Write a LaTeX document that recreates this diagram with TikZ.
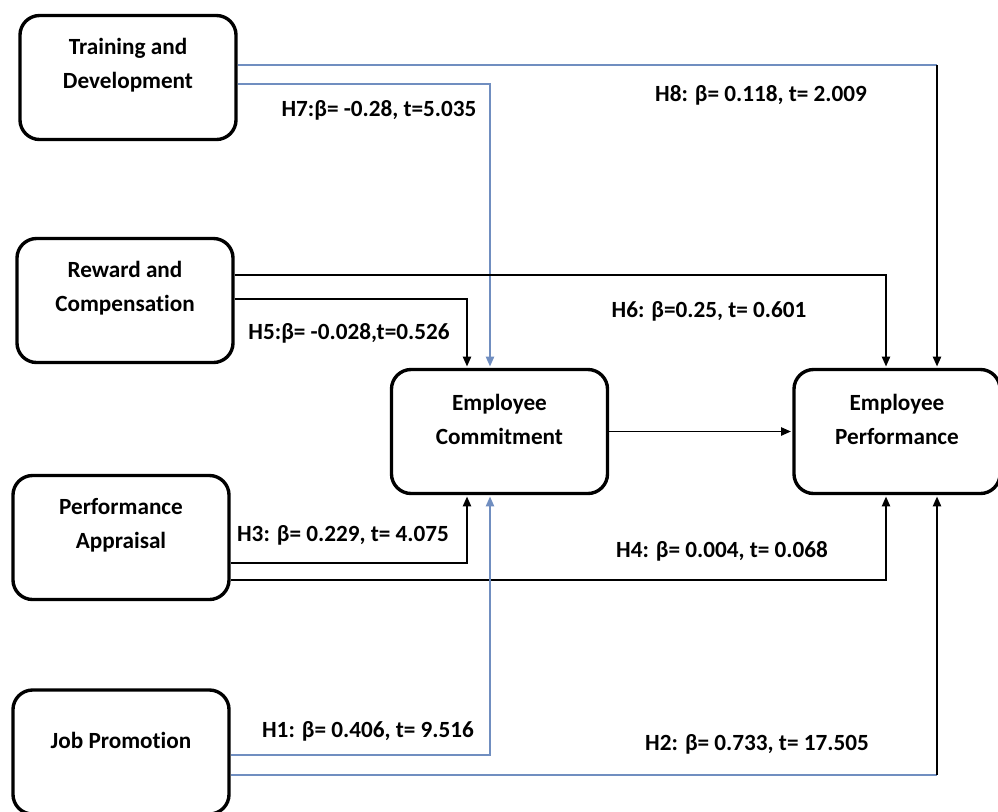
\documentclass[tikz,border=0pt]{standalone}
\usepackage{fontspec}
\setmainfont[Ligatures=NoCommon]{Carlito}
\usetikzlibrary{arrows.meta}
\definecolor{linkblue}{RGB}{112,142,192}
\tikzset{
	box/.style={draw, line width=2.4pt, rounded corners=14pt, minimum width=5.4cm, minimum height=3.1cm},
	boxtext/.style={align=center, yshift=0.3cm, font=\bfseries\fontsize{16.5}{24}\selectfont},
	hyp/.style={font=\bfseries\fontsize{16.5}{20}\selectfont, inner sep=0pt},
	link/.style={line width=0.9pt, shorten >=1pt, -{Triangle[length=7pt,width=6pt]}},
	bluelink/.style={link, draw=linkblue},
	blueline/.style={line width=0.9pt, draw=linkblue},
}
\begin{document}
\begin{tikzpicture}[x=0.025cm, y=-0.025cm]
			\useasboundingbox (0,0) rectangle (998,811);
			\node[box, label={[boxtext, name=traintext]center:{Training and\\Development}}] (train) at (128,77.5) {};
			\node[box, label={[boxtext, name=rewardtext]center:{Reward and\\Compensation}}] (reward) at (125,300.5) {};
			\node[box, label={[boxtext, name=appraistext]center:{Performance\\Appraisal}}] (apprais) at (121,537.5) {};
			\node[box, label={[boxtext, name=promotext]center:{Job Promotion}}] (promo) at (121,752) {};
			\node[box, label={[boxtext, name=committext]center:{Employee\\Commitment}}] (commit) at (499.5,431.5) {};
			\node[box, minimum width=5.15cm, label={[boxtext, name=perftext]center:{Employee\\Performance}}] (perf) at (897,431.5) {};
			\coordinate (h8turn) at (937,65);
			\coordinate (h7turn) at (490,84);
			\coordinate (h6turn) at (886,275);
			\coordinate (h5turn) at (467,299);
			\coordinate (h3turn) at (467,563);
			\coordinate (h4turn) at (886,580);
			\coordinate (h1turn) at (490,755);
			\coordinate (h2turn) at (937,775);
			\draw[blueline] (train.east |- h8turn) -- (h8turn);
			\draw[link] (h8turn) -- (h8turn |- perf.north);
			\draw[bluelink] (train.east |- h7turn) -- (h7turn) -- (h7turn |- commit.north);
			\draw[link] (reward.east |- h6turn) -- (h6turn) -- (h6turn |- perf.north);
			\draw[link] (reward.east |- h5turn) -- (h5turn) -- (h5turn |- commit.north);
			\draw[link] (apprais.east |- h3turn) -- (h3turn) -- (h3turn |- commit.south);
			\draw[link] (apprais.east |- h4turn) -- (h4turn) -- (h4turn |- perf.south);
			\draw[bluelink] (promo.east |- h1turn) -- (h1turn) -- (h1turn |- commit.south);
			\draw[blueline] (promo.east |- h2turn) -- (h2turn);
			\draw[link] (h2turn) -- (h2turn |- perf.south);
			\draw[link] (commit.east) -- (commit.east -| perf.west);
			\node[hyp] (h7lbl) at (379,110) {H7:β= -0.28, t=5.035};
			\node[hyp] (h8lbl) at (761,95) {H8: β= 0.118, t= 2.009};
			\node[hyp] (h6lbl) at (709,311) {H6: β=0.25, t= 0.601};
			\node[hyp] (h5lbl) at (349,333) {H5:β= -0.028,t=0.526};
			\node[hyp] (h3lbl) at (343,535) {H3: β= 0.229, t= 4.075};
			\node[hyp] (h4lbl) at (722,551) {H4: β= 0.004, t= 0.068};
			\node[hyp] (h1lbl) at (368,731) {H1: β= 0.406, t= 9.516};
			\node[hyp] (h2lbl) at (757,744) {H2: β= 0.733, t= 17.505};
\end{tikzpicture}
\end{document}
